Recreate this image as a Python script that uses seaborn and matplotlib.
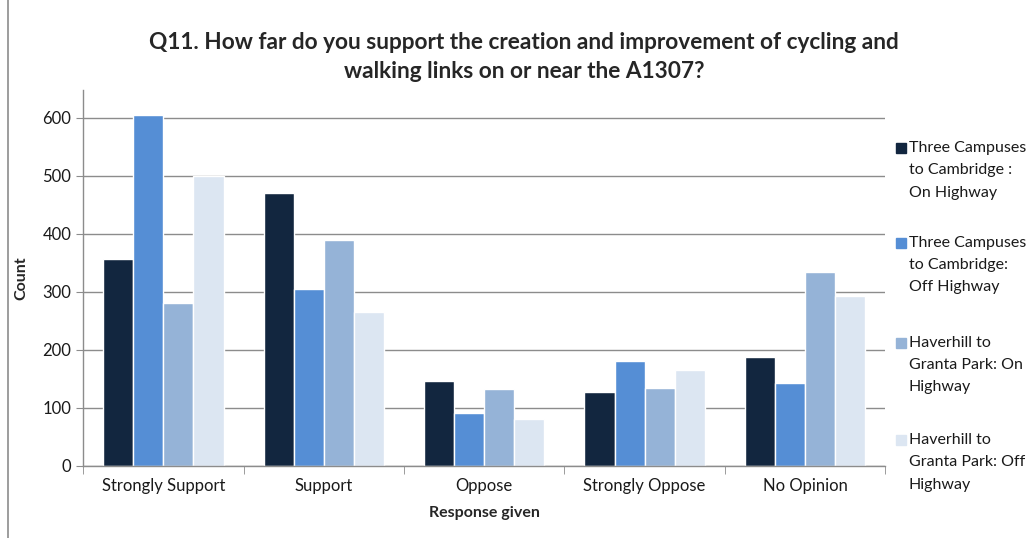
import pandas as pd
import seaborn as sns
import matplotlib.pyplot as plt
from matplotlib.lines import Line2D

# Datos
respuestas = ["Strongly Support", "Support", "Oppose", "Strongly Oppose", "No Opinion"]
series = ["Three Campuses\nto Cambridge :\nOn Highway",
          "Three Campuses\nto Cambridge:\nOff Highway",
          "Haverhill to\nGranta Park: On\nHighway",
          "Haverhill to\nGranta Park: Off\nHighway"]
tc_on = [356, 471, 147, 128, 187]
tc_off = [605, 304, 92, 180, 142]
hg_on = [280, 390, 133, 135, 334]
hg_off = [499, 265, 81, 166, 293]
colores = ["#12263f", "#558ed5", "#95b3d7", "#dce6f2"]

filas = []
for nombre, valores in zip(series, [tc_on, tc_off, hg_on, hg_off]):
    for resp, v in zip(respuestas, valores):
        filas.append({"respuesta": resp, "serie": nombre, "count": v})
df = pd.DataFrame(filas)

sns.set_style("white")
plt.rcParams["font.family"] = ["Lato", "DejaVu Sans"]

fig = plt.figure(figsize=(10.27, 5.38), dpi=100)
ax = fig.add_axes([0.081, 0.134, 0.781, 0.699])

sns.barplot(data=df, x="respuesta", y="count", hue="serie", order=respuestas,
            hue_order=series, palette=colores, width=0.75, gap=0,
            saturation=1, ax=ax, legend=False)

ax.set_ylim(0, 648)
ax.set_xlim(-0.5, 4.5)
ax.set_yticks(range(0, 601, 100))
ax.yaxis.grid(True, color="#8c8c8c", linewidth=1)
ax.set_axisbelow(True)
for s in ["top", "right"]:
    ax.spines[s].set_visible(False)
for s in ["left", "bottom"]:
    ax.spines[s].set_color("#8c8c8c")
    ax.spines[s].set_linewidth(1)

ax.tick_params(axis="x", length=0, labelsize=12, pad=9, colors="#1a1a1a")
ax.tick_params(axis="y", length=5, direction="out", color="#8c8c8c",
               labelsize=12, colors="#1a1a1a", left=True)
ax.set_xticks([i + 0.5 for i in range(-1, 5)], minor=True)
ax.tick_params(axis="x", which="minor", length=6, color="#8c8c8c", bottom=True)

ax.set_xlabel("Response given", fontsize=11.5, fontweight="bold", labelpad=8)
ax.set_ylabel("Count", fontsize=11.5, fontweight="bold", labelpad=10)

fig.suptitle("Q11. How far do you support the creation and improvement of cycling and\n"
             "walking links on or near the A1307?",
             x=0.51, y=0.94, fontsize=16.3, fontweight="bold", linespacing=1.45)

# leyenda a mano: cuadrado alineado con la primera linea del texto
y_leyenda = [148, 243, 343, 440]
for nombre, color, yp in zip(series, colores, y_leyenda):
    yf = 1 - yp / 538
    fig.patches.append(plt.Rectangle((896 / 1027, yf - 5 / 538), 10 / 1027, 10 / 538,
                                     color=color, transform=fig.transFigure))
    fig.text(909 / 1027, yf + 7 / 538, nombre, fontsize=11.5, va="top", ha="left",
             linespacing=1.75, color="#1a1a1a")

# borde del area del grafico
fig.add_artist(Line2D([0.008, 0.008], [0.0, 1.0], color="#8c8c8c", linewidth=1.2,
                      transform=fig.transFigure))

plt.savefig("out.png", dpi=100)
plt.close()
